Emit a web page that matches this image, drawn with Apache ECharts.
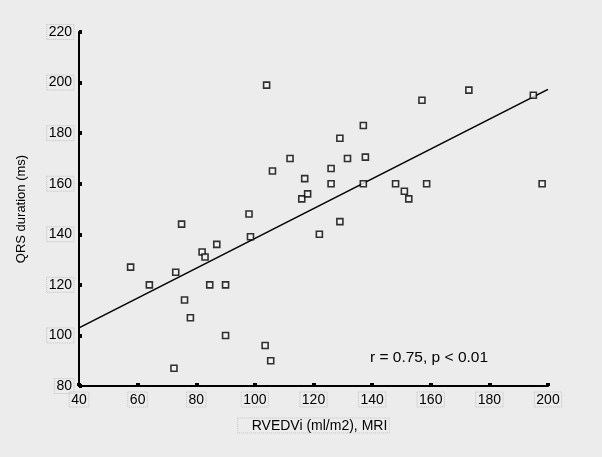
<!DOCTYPE html>
<html><head><meta charset="utf-8">
<script src="https://cdn.jsdelivr.net/npm/echarts@6/dist/echarts.min.js"></script>
<style>html,body{margin:0;padding:0;background:#ececec}#c{width:602px;height:457px}</style>
</head><body><div id="c"></div>
<script>
var xValues = [104,112,106,117,116,118,98,173,157,195,137,129,131.6,137.7,126,126,137,148,158.6,198,151,152.5,129,122,75,98.5,87,82,83,57.6,73,64,84.6,90,76,78,90,103.5,105.4,72.4];
var yValues = [199,170,165,162,154,156,148,197,193,195,183,178,170,170.5,166,160,160,160,160,160,157,154,145,140,144,139,136,133,131,127,125,120,120,120,114,107,100,96,90,87];
var fitX = [40, 200];
var fitY = [103, 197.3];
var xTicks = [40,60,80,100,120,140,160,180,200];
var yTicks = [80,100,120,140,160,180,200,220];
var annotation = 'r = 0.75, p < 0.01';

var pts = xValues.map(function(x,i){return [x, yValues[i]];});
var fit = fitX.map(function(x,i){return [x, fitY[i]];});
var font = 'Liberation Sans, Arial, sans-serif';
var lblBox = {borderColor:'#c2c2c2', borderType:'dotted', borderWidth:1, padding:[1,2,0,2]};

var chart = echarts.init(document.getElementById('c'));
chart.setOption({
  backgroundColor:'#ececec',
  animation:false,
  grid:{left:79, right:54, top:32, bottom:71},
  xAxis:{type:'value', min:xTicks[0], max:xTicks[xTicks.length-1], interval:20,
    name:'RVEDVi (ml/m2), MRI', nameLocation:'middle', nameGap:32,
    nameTextStyle:{fontFamily:font, fontSize:14, color:'#000', borderColor:'#c2c2c2', borderType:'dotted', borderWidth:1, padding:[1,2,0,14]},
    axisLine:{lineStyle:{color:'#000', width:2}},
    axisTick:{show:true, inside:true, length:3, lineStyle:{color:'#000', width:4}},
    axisLabel:Object.assign({fontFamily:font, fontSize:14, color:'#000', margin:6}, lblBox),
    splitLine:{show:false}},
  yAxis:{type:'value', min:yTicks[0], max:yTicks[yTicks.length-1], interval:20,
    name:'QRS duration (ms)', nameLocation:'middle', nameGap:51, nameRotate:90,
    nameTextStyle:{fontFamily:font, fontSize:13, color:'#000'},
    axisLine:{lineStyle:{color:'#000', width:2}},
    axisTick:{show:true, inside:true, length:3, lineStyle:{color:'#000', width:4}},
    axisLabel:Object.assign({fontFamily:font, fontSize:14, color:'#000', margin:5}, lblBox),
    splitLine:{show:false}},
  graphic:[{type:'text', left:370, top:350, style:{text:annotation, font:'15.5px Liberation Sans, Arial, sans-serif', fill:'#000'}}],
  series:[
    {type:'line', data:fit, symbol:'none', lineStyle:{color:'#000', width:1.6}, silent:true, z:2},
    {type:'scatter', data:pts, symbol:'rect', symbolSize:6,
      itemStyle:{color:'#f4f4f4', borderColor:'#000', borderWidth:1.6}, z:3}
  ]
});
</script></body></html>
